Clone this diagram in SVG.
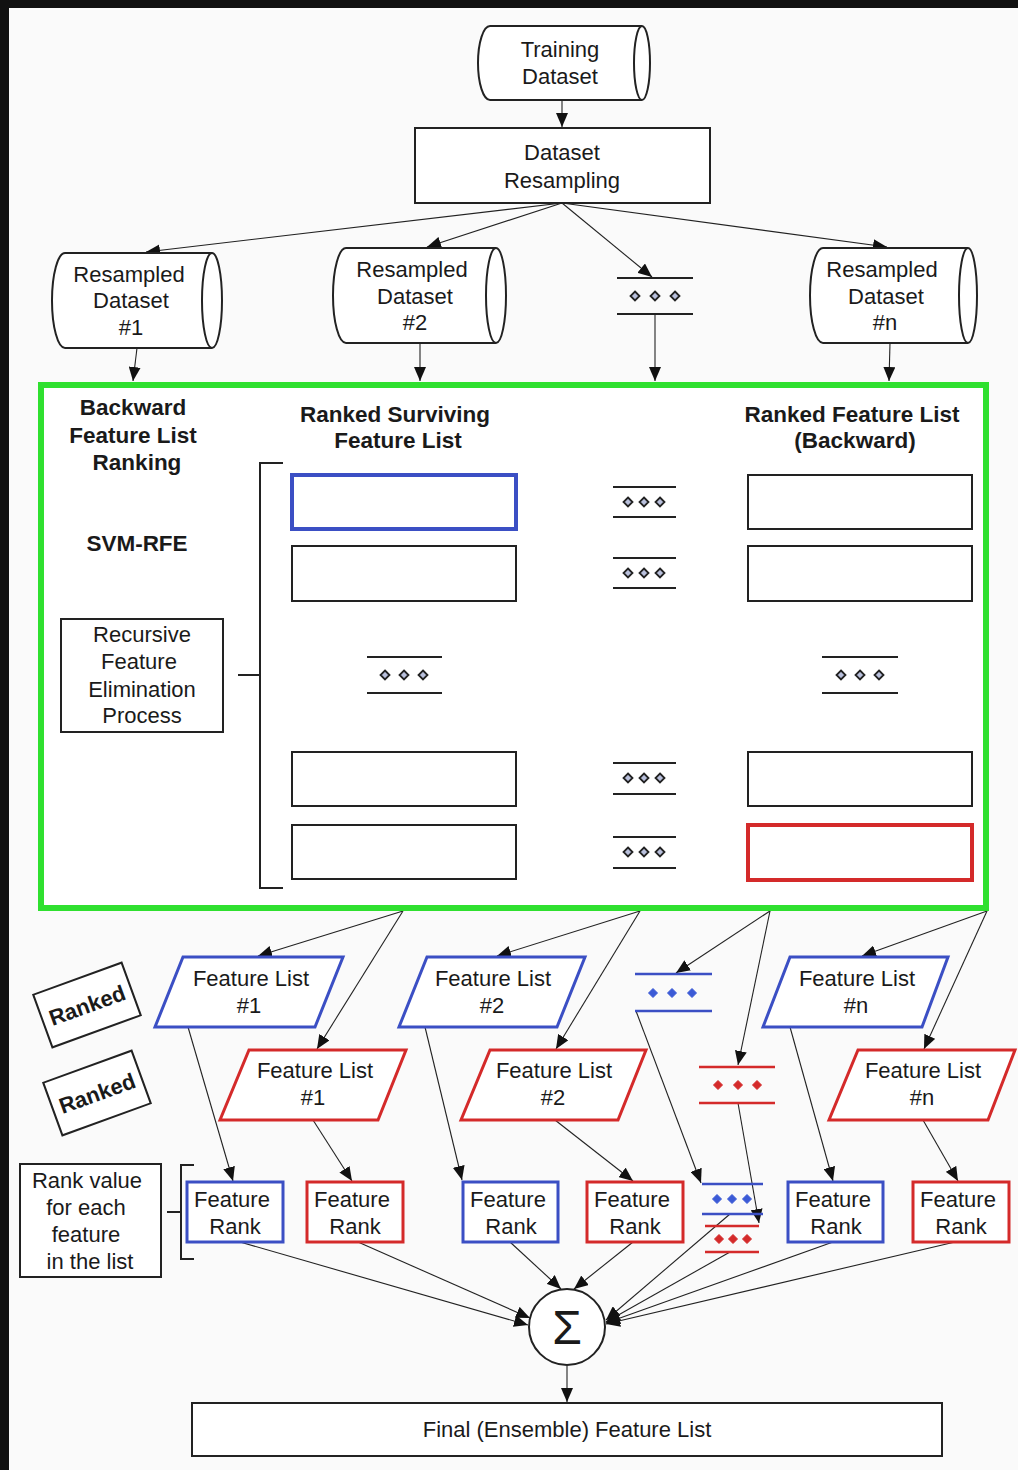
<svg xmlns="http://www.w3.org/2000/svg" width="1018" height="1470" viewBox="0 0 1018 1470">
  <defs>
    <marker id="arr" markerUnits="userSpaceOnUse" markerWidth="15" markerHeight="12" refX="14" refY="6" orient="auto">
      <path d="M0,0 L14,6 L0,12 Z" fill="#111"/>
    </marker>
    <path id="dm" d="M0,-4.5 L4.5,0 L0,4.5 L-4.5,0 Z"/>
    <style>
      text{font-family:"Liberation Sans",Arial,sans-serif;fill:#1a1a1a;text-anchor:middle}
      .t{font-size:22px}
      .b{font-size:22.5px;font-weight:bold}
      .box{fill:#fff;stroke:#222;stroke-width:2}
      .cyl{fill:#fff;stroke:#222;stroke-width:2}
      .blue{fill:#fff;stroke:#3b4fc4;stroke-width:3}
      .red{fill:#fff;stroke:#d42a2a;stroke-width:3}
      .c{fill:none;stroke:#222;stroke-width:1.1;marker-end:url(#arr)}
      .k{fill:none;stroke:#222;stroke-width:2}
      .kb{fill:none;stroke:#3b4fc4;stroke-width:2.5}
      .kr{fill:none;stroke:#d42a2a;stroke-width:2.5}
      .dk{fill:#b9c0dc;stroke:#222;stroke-width:1.8}
      .db{fill:#3b5ad6;stroke:#3b5ad6;stroke-width:1}
      .dr{fill:#d42a2a;stroke:#d42a2a;stroke-width:1}
    </style>
  </defs>

  <!-- page -->
  <rect x="0" y="0" width="1018" height="1470" fill="#fafafa"/>
  <rect x="0" y="0" width="1018" height="8" fill="#111"/>
  <rect x="0" y="0" width="9" height="1470" fill="#111"/>

  <!-- connectors -->
  <g id="connectors">
    <line class="c" x1="562" y1="100" x2="562" y2="127"/>
    <line class="c" x1="562" y1="203" x2="146" y2="252"/>
    <line class="c" x1="562" y1="203" x2="427" y2="247"/>
    <line class="c" x1="562" y1="203" x2="652" y2="277"/>
    <line class="c" x1="562" y1="203" x2="887" y2="247"/>
    <line class="c" x1="137" y1="348" x2="133" y2="381"/>
    <line class="c" x1="420" y1="343" x2="420" y2="381"/>
    <line class="c" x1="655" y1="314" x2="655" y2="381"/>
    <line class="c" x1="890" y1="343" x2="889" y2="381"/>

    <line class="c" x1="403" y1="911" x2="258" y2="956"/>
    <line class="c" x1="403" y1="911" x2="317" y2="1049"/>
    <line class="c" x1="640" y1="911" x2="497" y2="956"/>
    <line class="c" x1="640" y1="911" x2="556" y2="1049"/>
    <line class="c" x1="770" y1="911" x2="676" y2="973"/>
    <line class="c" x1="770" y1="911" x2="738" y2="1065"/>
    <line class="c" x1="987" y1="911" x2="862" y2="956"/>
    <line class="c" x1="987" y1="911" x2="924" y2="1049"/>

    <line class="c" x1="188" y1="1027" x2="233" y2="1181"/>
    <line class="c" x1="313" y1="1120" x2="352" y2="1181"/>
    <line class="c" x1="425" y1="1027" x2="462" y2="1180"/>
    <line class="c" x1="555" y1="1120" x2="633" y2="1181"/>
    <line class="c" x1="636" y1="1011" x2="701" y2="1183"/>
    <line class="c" x1="738" y1="1103" x2="759" y2="1223"/>
    <line class="c" x1="790" y1="1027" x2="833" y2="1181"/>
    <line class="c" x1="923" y1="1120" x2="958" y2="1181"/>

    <line class="c" x1="240" y1="1242" x2="528" y2="1325"/>
    <line class="c" x1="358" y1="1242" x2="530" y2="1318"/>
    <line class="c" x1="510" y1="1242" x2="561" y2="1289"/>
    <line class="c" x1="633" y1="1242" x2="574" y2="1289"/>
    <line class="c" x1="730" y1="1214" x2="606" y2="1320"/>
    <line class="c" x1="730" y1="1252" x2="606" y2="1322"/>
    <line class="c" x1="833" y1="1242" x2="606" y2="1323"/>
    <line class="c" x1="955" y1="1242" x2="606" y2="1324"/>

    <line class="c" x1="567" y1="1366" x2="567" y2="1402"/>
  </g>

  <!-- top of the flow -->
  <g id="training-dataset">
    <path class="cyl" d="M490,26 L642,26 A8,37 0 0 1 642,100 L490,100 A12,37 0 0 1 490,26 Z"/>
    <path class="k" d="M642,26 A8,37 0 0 0 642,100"/>
    <text class="t" x="560" y="57">Training</text>
    <text class="t" x="560" y="84">Dataset</text>
  </g>

  <g id="dataset-resampling">
    <rect class="box" x="415" y="128" width="295" height="75"/>
    <text class="t" x="562" y="160">Dataset</text>
    <text class="t" x="562" y="188">Resampling</text>
  </g>

  <g id="resampled-1">
    <path class="cyl" d="M65,253 L212,253 A10,47.5 0 0 1 212,348 L65,348 A13,47.5 0 0 1 65,253 Z"/>
    <path class="k" d="M212,253 A10,47.5 0 0 0 212,348"/>
    <text class="t" x="129" y="282">Resampled</text>
    <text class="t" x="131" y="308">Dataset</text>
    <text class="t" x="131" y="335">#1</text>
  </g>

  <g id="resampled-2">
    <path class="cyl" d="M346,248 L496,248 A10,47.5 0 0 1 496,343 L346,343 A13,47.5 0 0 1 346,248 Z"/>
    <path class="k" d="M496,248 A10,47.5 0 0 0 496,343"/>
    <text class="t" x="412" y="277">Resampled</text>
    <text class="t" x="415" y="304">Dataset</text>
    <text class="t" x="415" y="330">#2</text>
  </g>

  <g id="resampled-more">
    <line class="k" x1="617" y1="278" x2="693" y2="278"/>
    <line class="k" x1="617" y1="314" x2="693" y2="314"/>
    <use href="#dm" class="dk" x="635" y="296"/>
    <use href="#dm" class="dk" x="655" y="296"/>
    <use href="#dm" class="dk" x="675" y="296"/>
  </g>

  <g id="resampled-n">
    <path class="cyl" d="M823,248 L968,248 A9,47.5 0 0 1 968,343 L823,343 A13,47.5 0 0 1 823,248 Z"/>
    <path class="k" d="M968,248 A9,47.5 0 0 0 968,343"/>
    <text class="t" x="882" y="277">Resampled</text>
    <text class="t" x="886" y="304">Dataset</text>
    <text class="t" x="885" y="330">#n</text>
  </g>

  <!-- SVM-RFE stage -->
  <g id="svm-rfe-stage">
    <rect x="41" y="385" width="945" height="523" fill="#fff" stroke="#2fe02f" stroke-width="6"/>
    <text class="b" x="133" y="415">Backward</text>
    <text class="b" x="133" y="443">Feature List</text>
    <text class="b" x="137" y="470">Ranking</text>
    <text class="b" x="137" y="551">SVM-RFE</text>
    <text class="b" x="395" y="422">Ranked Surviving</text>
    <text class="b" x="398" y="448">Feature List</text>
    <text class="b" x="852" y="422">Ranked Feature List</text>
    <text class="b" x="855" y="448">(Backward)</text>

    <path class="k" d="M283,463 L260,463 L260,888 L283,888 M238,675 L260,675"/>
  </g>

  <g id="rfe-process">
    <rect class="box" x="61" y="619" width="162" height="113"/>
    <text class="t" x="142" y="642">Recursive</text>
    <text class="t" x="139" y="669">Feature</text>
    <text class="t" x="142" y="697">Elimination</text>
    <text class="t" x="142" y="723">Process</text>
  </g>

  <g id="surviving-list">
    <rect x="292" y="475" width="224" height="54" fill="#fff" stroke="#3b4fc4" stroke-width="4"/>
    <rect class="box" x="292" y="546" width="224" height="55"/>
    <rect class="box" x="292" y="752" width="224" height="54"/>
    <rect class="box" x="292" y="825" width="224" height="54"/>
    <line class="k" x1="367" y1="657" x2="442" y2="657"/>
    <line class="k" x1="367" y1="693" x2="442" y2="693"/>
    <use href="#dm" class="dk" x="385" y="675"/>
    <use href="#dm" class="dk" x="404" y="675"/>
    <use href="#dm" class="dk" x="423" y="675"/>
  </g>

  <g id="middle-steps">
    <line class="k" x1="613" y1="487" x2="676" y2="487"/>
    <line class="k" x1="613" y1="517" x2="676" y2="517"/>
    <use href="#dm" class="dk" x="628" y="502"/>
    <use href="#dm" class="dk" x="644" y="502"/>
    <use href="#dm" class="dk" x="660" y="502"/>
    <line class="k" x1="613" y1="558" x2="676" y2="558"/>
    <line class="k" x1="613" y1="588" x2="676" y2="588"/>
    <use href="#dm" class="dk" x="628" y="573"/>
    <use href="#dm" class="dk" x="644" y="573"/>
    <use href="#dm" class="dk" x="660" y="573"/>
    <line class="k" x1="613" y1="763" x2="676" y2="763"/>
    <line class="k" x1="613" y1="794" x2="676" y2="794"/>
    <use href="#dm" class="dk" x="628" y="778"/>
    <use href="#dm" class="dk" x="644" y="778"/>
    <use href="#dm" class="dk" x="660" y="778"/>
    <line class="k" x1="613" y1="837" x2="676" y2="837"/>
    <line class="k" x1="613" y1="868" x2="676" y2="868"/>
    <use href="#dm" class="dk" x="628" y="852"/>
    <use href="#dm" class="dk" x="644" y="852"/>
    <use href="#dm" class="dk" x="660" y="852"/>
  </g>

  <g id="backward-list">
    <rect class="box" x="748" y="475" width="224" height="54"/>
    <rect class="box" x="748" y="546" width="224" height="55"/>
    <rect class="box" x="748" y="752" width="224" height="54"/>
    <rect x="748" y="825" width="224" height="55" fill="#fff" stroke="#d42a2a" stroke-width="4"/>
    <line class="k" x1="822" y1="657" x2="898" y2="657"/>
    <line class="k" x1="822" y1="693" x2="898" y2="693"/>
    <use href="#dm" class="dk" x="841" y="675"/>
    <use href="#dm" class="dk" x="860" y="675"/>
    <use href="#dm" class="dk" x="879" y="675"/>
  </g>

  <!-- side labels -->
  <g id="label-ranked-blue" transform="translate(87,1005) rotate(-20)">
    <rect class="box" x="-47" y="-28" width="94" height="56"/>
    <text class="b" x="0" y="8" style="font-size:22px">Ranked</text>
  </g>
  <g id="label-ranked-red" transform="translate(97,1093) rotate(-20)">
    <rect class="box" x="-47" y="-28" width="94" height="56"/>
    <text class="b" x="0" y="8" style="font-size:22px">Ranked</text>
  </g>

  <!-- ranked feature lists -->
  <g id="list-blue-1">
    <polygon class="blue" points="183,957 343,957 315,1027 155,1027"/>
    <text class="t" x="251" y="986">Feature List</text>
    <text class="t" x="249" y="1013">#1</text>
  </g>
  <g id="list-red-1">
    <polygon class="red" points="249,1050 406,1050 378,1120 220,1120"/>
    <text class="t" x="315" y="1078">Feature List</text>
    <text class="t" x="313" y="1105">#1</text>
  </g>
  <g id="list-blue-2">
    <polygon class="blue" points="427,957 585,957 557,1027 399,1027"/>
    <text class="t" x="493" y="986">Feature List</text>
    <text class="t" x="492" y="1013">#2</text>
  </g>
  <g id="list-red-2">
    <polygon class="red" points="490,1050 646,1050 618,1120 461,1120"/>
    <text class="t" x="554" y="1078">Feature List</text>
    <text class="t" x="553" y="1105">#2</text>
  </g>
  <g id="list-blue-more">
    <line class="kb" x1="635" y1="974" x2="712" y2="974"/>
    <line class="kb" x1="635" y1="1011" x2="712" y2="1011"/>
    <use href="#dm" class="db" x="653" y="993"/>
    <use href="#dm" class="db" x="672" y="993"/>
    <use href="#dm" class="db" x="692" y="993"/>
  </g>
  <g id="list-red-more">
    <line class="kr" x1="699" y1="1067" x2="775" y2="1067"/>
    <line class="kr" x1="699" y1="1103" x2="775" y2="1103"/>
    <use href="#dm" class="dr" x="718" y="1085"/>
    <use href="#dm" class="dr" x="738" y="1085"/>
    <use href="#dm" class="dr" x="757" y="1085"/>
  </g>
  <g id="list-blue-n">
    <polygon class="blue" points="790,957 948,957 922,1027 763,1027"/>
    <text class="t" x="857" y="986">Feature List</text>
    <text class="t" x="856" y="1013">#n</text>
  </g>
  <g id="list-red-n">
    <polygon class="red" points="858,1050 1015,1050 988,1120 829,1120"/>
    <text class="t" x="923" y="1078">Feature List</text>
    <text class="t" x="922" y="1105">#n</text>
  </g>

  <!-- rank values -->
  <g id="rank-note">
    <rect class="box" x="20" y="1164" width="141" height="113"/>
    <text class="t" x="87" y="1188">Rank value</text>
    <text class="t" x="86" y="1215">for each</text>
    <text class="t" x="86" y="1242">feature</text>
    <text class="t" x="90" y="1269">in the list</text>
    <path class="k" d="M194,1165 L181,1165 L181,1259 L194,1259 M167,1212 L181,1212"/>
  </g>
  <g id="rank-blue-1">
    <rect class="blue" x="187" y="1182" width="96" height="60"/>
    <text class="t" x="232" y="1207">Feature</text>
    <text class="t" x="235" y="1234">Rank</text>
  </g>
  <g id="rank-red-1">
    <rect class="red" x="307" y="1182" width="96" height="60"/>
    <text class="t" x="352" y="1207">Feature</text>
    <text class="t" x="355" y="1234">Rank</text>
  </g>
  <g id="rank-blue-2">
    <rect class="blue" x="463" y="1182" width="95" height="60"/>
    <text class="t" x="508" y="1207">Feature</text>
    <text class="t" x="511" y="1234">Rank</text>
  </g>
  <g id="rank-red-2">
    <rect class="red" x="587" y="1182" width="96" height="60"/>
    <text class="t" x="632" y="1207">Feature</text>
    <text class="t" x="635" y="1234">Rank</text>
  </g>
  <g id="rank-more">
    <line class="kb" x1="702" y1="1184" x2="763" y2="1184"/>
    <line class="kb" x1="702" y1="1214" x2="763" y2="1214"/>
    <use href="#dm" class="db" x="717" y="1199"/>
    <use href="#dm" class="db" x="732" y="1199"/>
    <use href="#dm" class="db" x="747" y="1199"/>
    <line class="kr" x1="705" y1="1226" x2="759" y2="1226"/>
    <line class="kr" x1="705" y1="1252" x2="759" y2="1252"/>
    <use href="#dm" class="dr" x="719" y="1239"/>
    <use href="#dm" class="dr" x="733" y="1239"/>
    <use href="#dm" class="dr" x="747" y="1239"/>
  </g>
  <g id="rank-blue-n">
    <rect class="blue" x="788" y="1182" width="95" height="60"/>
    <text class="t" x="833" y="1207">Feature</text>
    <text class="t" x="836" y="1234">Rank</text>
  </g>
  <g id="rank-red-n">
    <rect class="red" x="913" y="1182" width="96" height="60"/>
    <text class="t" x="958" y="1207">Feature</text>
    <text class="t" x="961" y="1234">Rank</text>
  </g>

  <!-- aggregation -->
  <g id="sum">
    <circle cx="567" cy="1327" r="38" fill="#fff" stroke="#222" stroke-width="2"/>
    <text x="567" y="1344" style="font-size:48px">Σ</text>
  </g>
  <g id="final-list">
    <rect class="box" x="192" y="1403" width="750" height="53"/>
    <text class="t" x="567" y="1437">Final (Ensemble) Feature List</text>
  </g>
</svg>
